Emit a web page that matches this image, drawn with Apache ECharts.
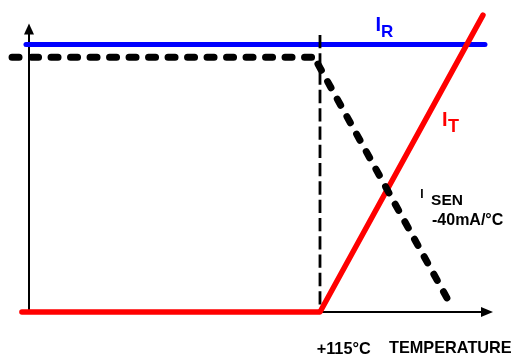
<!DOCTYPE html>
<html>
<head>
<meta charset="utf-8">
<script src="https://cdn.jsdelivr.net/npm/echarts@6/dist/echarts.min.js"></script>
<style>
  html, body { margin: 0; padding: 0; background: #fff; }
  #chart { width: 517px; height: 358px; }
</style>
</head>
<body>
<div id="chart"></div>
<script>
// 温度轴 (°C) 与电流轴 (相对值 0-100)
const tempMin = 0;
const tempMax = 181;
const kneeTemp = 115;
const currMin = 0;
const currMax = 100;

// I_T: 115°C 以下为 0, 之后线性上升
const itTemp = [-2.8, 115, 179.4];
const itValue = [0, 0, 104.9];

// I_R: 恒定
const irTemp = [-1.2, 180.2];
const irValue = [94.5, 94.5];

// I_SEN: 115°C 之前平坦, 之后 -40mA/°C 下降
const senFlatTemp = [-6.7, 112.2];
const senFlatValue = [90, 90];
const senSlopeTemp = [114.2, 165.2];
const senSlopeValue = [87.6, 4.9];

// 115°C 竖直虚线
const kneeLineValue = [97.9, 0];

const labelKnee = '+115°C';
const labelAxis = 'TEMPERATURE';
const labelSlope = '-40mA/°C';

const FONT = 'Liberation Sans';
const W = 517;
const AXIS_GRID = { left: 29, right: 30, top: 29, bottom: 46 };

function pairs(xs, ys) {
  return xs.map((x, i) => [x, ys[i]]);
}

function lineSeries(data, color, width, dash, cap) {
  return {
    type: 'line',
    xAxisIndex: 1,
    yAxisIndex: 1,
    data: data,
    symbol: 'none',
    showSymbol: false,
    clip: false,
    silent: true,
    animation: false,
    lineStyle: {
      color: color,
      width: width,
      type: dash || 'solid',
      cap: cap || 'round',
      join: 'round'
    }
  };
}

function txt(text, x, y, size, color) {
  return {
    type: 'text',
    silent: true,
    x: x,
    y: y,
    style: {
      text: text,
      fill: color,
      fontSize: size,
      fontWeight: 'bold',
      fontFamily: FONT,
      align: 'left',
      verticalAlign: 'middle'
    }
  };
}

// 线条画在覆盖整个宽度的第二个 grid 上, 比例尺与坐标轴 grid 相同, 避免横向裁剪
const axisWidth = W - AXIS_GRID.left - AXIS_GRID.right;
const tempPerPx = (tempMax - tempMin) / axisWidth;
const drawMin = tempMin - AXIS_GRID.left * tempPerPx;
const drawMax = tempMax + AXIS_GRID.right * tempPerPx;

const chart = echarts.init(document.getElementById('chart'), null, { renderer: 'canvas' });

const axisLine = {
  show: true,
  onZero: false,
  symbol: ['none', 'triangle'],
  lineStyle: { color: '#000', width: 2 }
};
const hidden = {
  axisLine: { show: false },
  axisTick: { show: false },
  axisLabel: { show: false },
  splitLine: { show: false }
};

chart.setOption({
  animation: false,
  grid: [
    AXIS_GRID,
    { left: 0, right: 0, top: AXIS_GRID.top, bottom: AXIS_GRID.bottom }
  ],
  xAxis: [
    Object.assign({}, hidden, {
      type: 'value', gridIndex: 0, min: tempMin, max: tempMax,
      axisLine: Object.assign({}, axisLine, { symbolSize: [10, 12] })
    }),
    Object.assign({}, hidden, { type: 'value', gridIndex: 1, min: drawMin, max: drawMax })
  ],
  yAxis: [
    Object.assign({}, hidden, {
      type: 'value', gridIndex: 0, min: currMin, max: currMax,
      axisLine: Object.assign({}, axisLine, { symbolSize: [10, 11] })
    }),
    Object.assign({}, hidden, { type: 'value', gridIndex: 1, min: currMin, max: currMax })
  ],
  series: [
    lineSeries(pairs(irTemp, irValue), '#0000ff', 5),
    lineSeries(pairs([kneeTemp, kneeTemp], kneeLineValue), '#000', 2.8, [13.3, 5], 'butt'),
    lineSeries(pairs(itTemp, itValue), '#ff0000', 5.5),
    lineSeries(pairs(senFlatTemp, senFlatValue), '#000', 7, [7, 12.5]),
    lineSeries(pairs(senSlopeTemp, senSlopeValue), '#000', 7, [7, 13])
  ],
  graphic: [
    txt('I', 375.4, 25.5, 20, '#0000ff'),
    txt('R', 381.1, 32.5, 17, '#0000ff'),
    txt('I', 442.0, 120.3, 20, '#ff0000'),
    txt('T', 447.9, 126.7, 18, '#ff0000'),
    txt('I', 420.2, 194.2, 12, '#000'),
    txt('SEN', 431.1, 200.5, 15.5, '#000'),
    txt(labelSlope, 432.0, 220.8, 16, '#000'),
    txt(labelKnee, 316.7, 349.2, 16.3, '#000'),
    txt(labelAxis, 389.0, 348.8, 16.3, '#000')
  ]
});
</script>
</body>
</html>
